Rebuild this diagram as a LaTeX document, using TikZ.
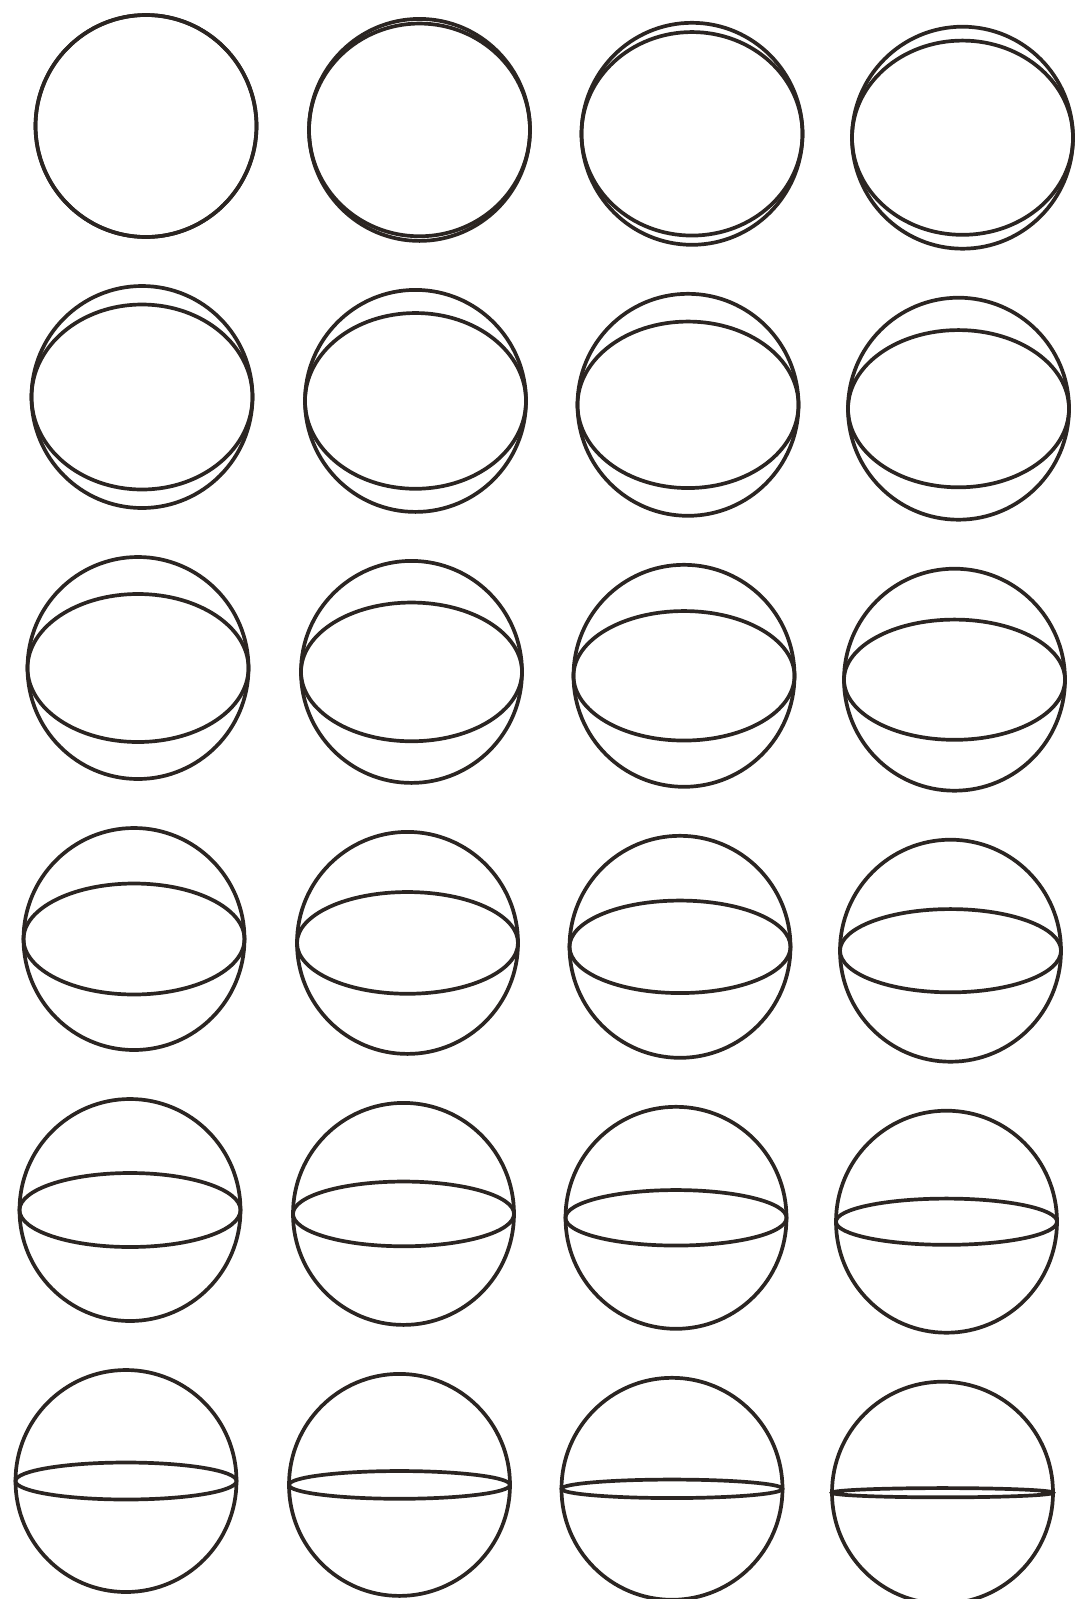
\documentclass[tikz,border=0pt]{standalone}
\definecolor{ink}{HTML}{2B2522}
\begin{document}
\begin{tikzpicture}[x=1pt,y=-1pt, sphere/.style={draw=ink, line width=3.7pt}]
\useasboundingbox[fill=white] (0,0) rectangle (1076,1599);
\foreach \cx [count=\col from 0] in {146,419.5,692,962.5}{
  \foreach \row in {0,...,5}{
    \pgfmathsetmacro{\kk}{\row*4+\col}
    \pgfmathsetmacro{\px}{\cx-4*\row}
    \pgfmathsetmacro{\py}{126+271*\row+3.9*\col}
    \pgfmathsetmacro{\ry}{111*(1-\kk/24)}
    \draw[sphere] (\px,\py) ellipse[x radius=110.5, y radius=111];
    \draw[sphere] (\px,\py) ellipse[x radius=110.5, y radius=\ry];
  }
}
\end{tikzpicture}
\end{document}
